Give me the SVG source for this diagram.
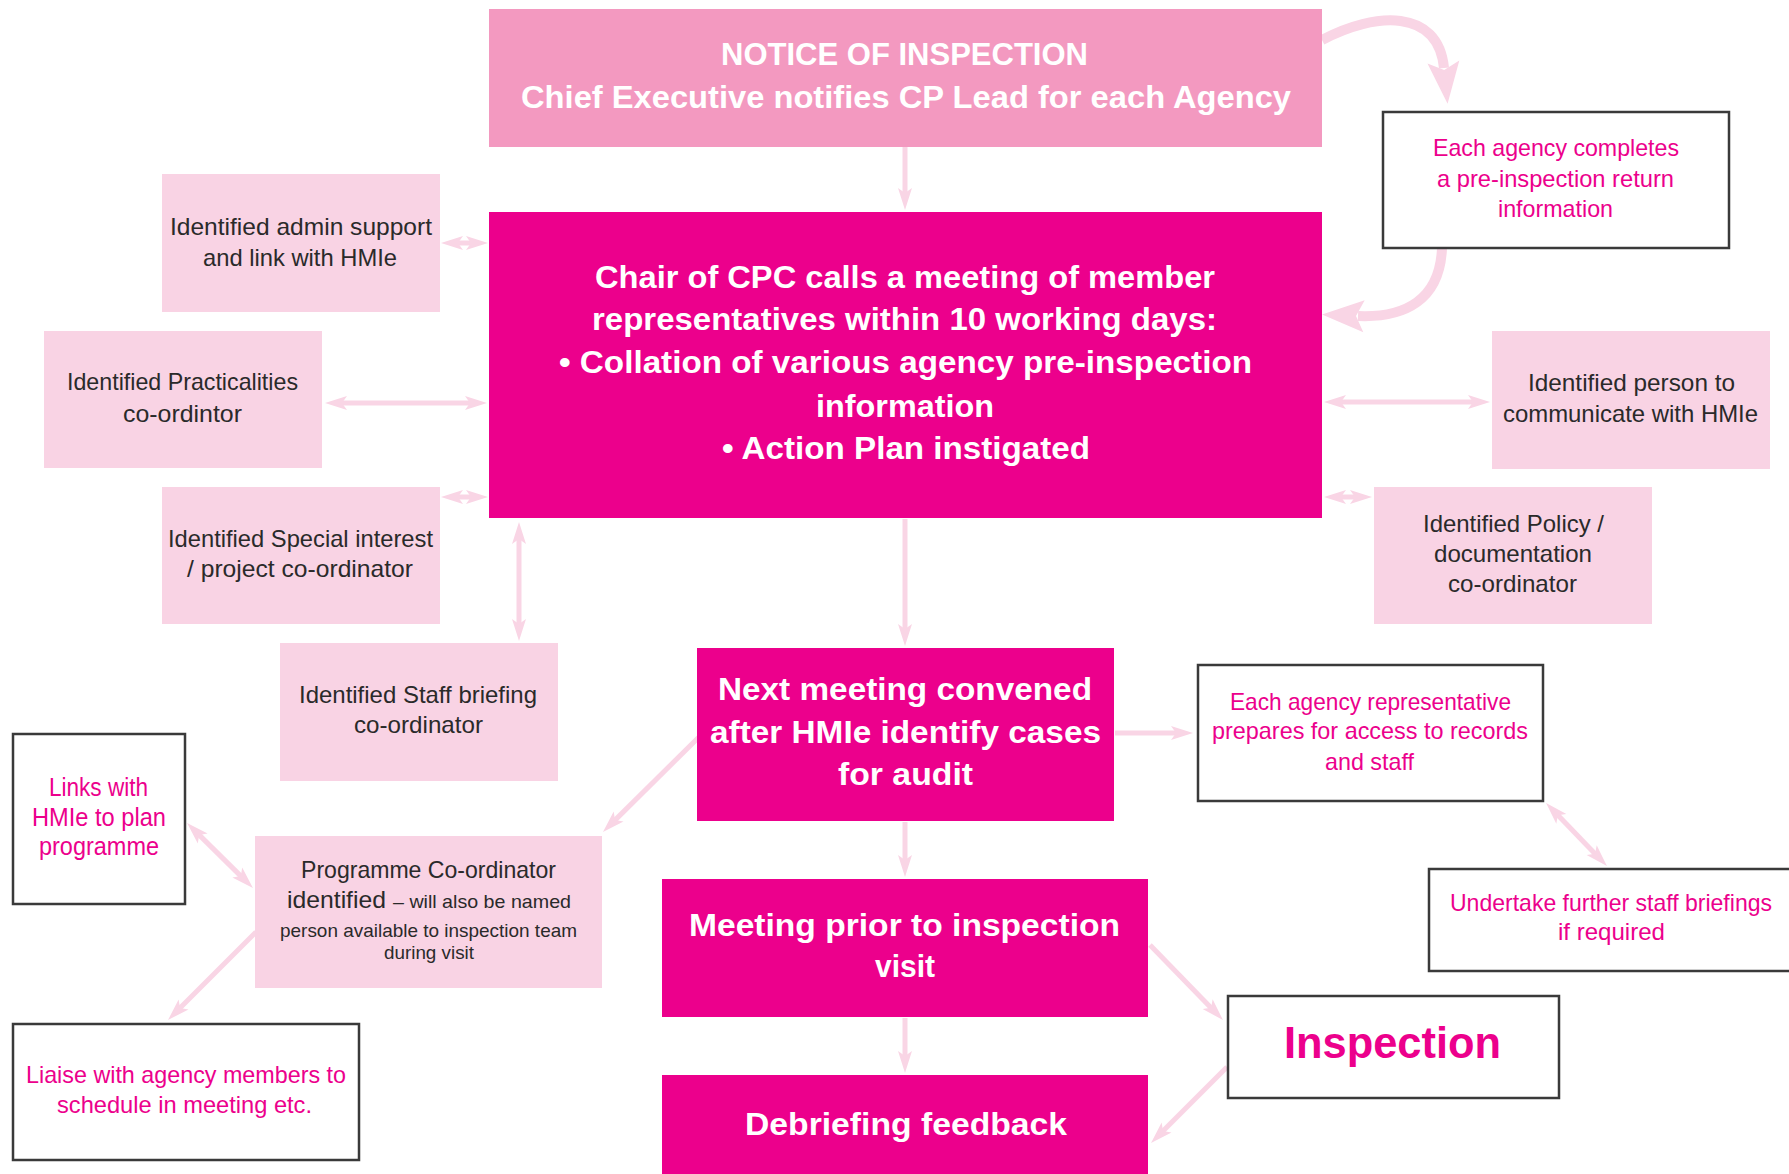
<svg xmlns="http://www.w3.org/2000/svg" width="1789" height="1174" viewBox="0 0 1789 1174">
<style>
.bg{fill:#ffffff}
.top{fill:#F399C0}
.mag{fill:#EC008C}
.lp{fill:#F9D3E4}
.ol{fill:#ffffff;stroke:#3a3a3a;stroke-width:2.5}
.tw{font-family:"Liberation Sans",Arial,sans-serif;font-weight:bold;fill:#ffffff;font-size:32px}
.tm{font-family:"Liberation Sans",Arial,sans-serif;font-weight:bold;fill:#EC008C;font-size:44px}
.td{font-family:"Liberation Sans",Arial,sans-serif;fill:#2a2a2a;font-size:24px}
.tp{font-family:"Liberation Sans",Arial,sans-serif;fill:#EC008C;font-size:24px}
.s19{font-size:19px}
.s25{font-size:25px}
.c{fill:none;stroke:#F9D5E5;stroke-width:5}
.cb{fill:none;stroke:#F9D5E5;stroke-width:10}
</style>
<defs>
<marker id="ah" markerUnits="userSpaceOnUse" markerWidth="24" markerHeight="16" refX="10" refY="8" orient="auto-start-reverse" overflow="visible">
<path d="M0,1 L22,8 L0,15 L5,8 Z" fill="#F9D5E5"/>
</marker>
<marker id="big" markerUnits="userSpaceOnUse" markerWidth="44" markerHeight="36" refX="6" refY="18" orient="auto" overflow="visible">
<path d="M0,2 L42,18 L0,34 L8,18 Z" fill="#F9D5E5"/>
</marker>
</defs>
<rect class="bg" x="0" y="0" width="1789" height="1174"/>

<g id="connectors">
<line class="c" x1="905" y1="147" x2="905" y2="198" marker-end="url(#ah)"/>
<line class="c" x1="905" y1="519" x2="905" y2="634" marker-end="url(#ah)"/>
<line class="c" x1="905" y1="822" x2="905" y2="865" marker-end="url(#ah)"/>
<line class="c" x1="905" y1="1018" x2="905" y2="1061" marker-end="url(#ah)"/>
<line class="c" x1="519" y1="534" x2="519" y2="629" marker-start="url(#ah)" marker-end="url(#ah)"/>
<line class="c" x1="453" y1="243" x2="476" y2="243" marker-start="url(#ah)" marker-end="url(#ah)"/>
<line class="c" x1="337" y1="403" x2="475" y2="403" marker-start="url(#ah)" marker-end="url(#ah)"/>
<line class="c" x1="453" y1="497" x2="476" y2="497" marker-start="url(#ah)" marker-end="url(#ah)"/>
<line class="c" x1="1336" y1="402" x2="1478" y2="402" marker-start="url(#ah)" marker-end="url(#ah)"/>
<line class="c" x1="1336" y1="497" x2="1360" y2="497" marker-start="url(#ah)" marker-end="url(#ah)"/>
<line class="c" x1="1115" y1="733" x2="1181" y2="733" marker-end="url(#ah)"/>
<line class="c" x1="699" y1="737" x2="611.5" y2="823.6" marker-end="url(#ah)"/>
<line class="c" x1="195.6" y1="831.4" x2="244.4" y2="879.6" marker-start="url(#ah)" marker-end="url(#ah)"/>
<line class="c" x1="256" y1="932" x2="176.5" y2="1011.5" marker-end="url(#ah)"/>
<line class="c" x1="1554.4" y1="811.6" x2="1598.6" y2="857.4" marker-start="url(#ah)" marker-end="url(#ah)"/>
<line class="c" x1="1150" y1="945" x2="1214.6" y2="1011.4" marker-end="url(#ah)"/>
<line class="c" x1="1227" y1="1067" x2="1159.5" y2="1134.5" marker-end="url(#ah)"/>
<path class="cb" d="M1322,40 C1375,12 1438,8 1444,68" marker-end="url(#big)"/>
<path class="cb" d="M1442,248 C1440,300 1405,318 1358,316" marker-end="url(#big)"/>
</g>

<g id="n-notice">
<rect class="top" x="489" y="9" width="833" height="138"/>
<text class="tw" x="721" y="65" textLength="367" lengthAdjust="spacingAndGlyphs">NOTICE OF INSPECTION</text>
<text class="tw" x="521" y="108" textLength="770" lengthAdjust="spacingAndGlyphs">Chief Executive notifies CP Lead for each Agency</text>
</g>

<g id="n-chair">
<rect class="mag" x="489" y="212" width="833" height="306"/>
<text class="tw" x="595" y="288" textLength="620" lengthAdjust="spacingAndGlyphs">Chair of CPC calls a meeting of member</text>
<text class="tw" x="592" y="330" textLength="625" lengthAdjust="spacingAndGlyphs">representatives within 10 working days:</text>
<text class="tw" x="559" y="373" textLength="693" lengthAdjust="spacingAndGlyphs">• Collation of various agency pre-inspection</text>
<text class="tw" x="816" y="417" textLength="178" lengthAdjust="spacingAndGlyphs">information</text>
<text class="tw" x="722" y="459" textLength="368" lengthAdjust="spacingAndGlyphs">• Action Plan instigated</text>
</g>

<g id="n-return">
<rect class="ol" x="1383" y="112" width="346" height="136"/>
<text class="tp" x="1433" y="156" textLength="246" lengthAdjust="spacingAndGlyphs">Each agency completes</text>
<text class="tp" x="1437" y="187" textLength="237" lengthAdjust="spacingAndGlyphs">a pre-inspection return</text>
<text class="tp" x="1498" y="217" textLength="115" lengthAdjust="spacingAndGlyphs">information</text>
</g>

<g id="n-admin">
<rect class="lp" x="162" y="174" width="278" height="138"/>
<text class="td" x="170" y="235" textLength="262" lengthAdjust="spacingAndGlyphs">Identified admin support</text>
<text class="td" x="203" y="266" textLength="194" lengthAdjust="spacingAndGlyphs">and link with HMIe</text>
</g>

<g id="n-practical">
<rect class="lp" x="44" y="331" width="278" height="137"/>
<text class="td" x="67" y="390" textLength="231" lengthAdjust="spacingAndGlyphs">Identified Practicalities</text>
<text class="td" x="123" y="422" textLength="119" lengthAdjust="spacingAndGlyphs">co-ordintor</text>
</g>

<g id="n-special">
<rect class="lp" x="162" y="487" width="278" height="137"/>
<text class="td" x="168" y="547" textLength="265" lengthAdjust="spacingAndGlyphs">Identified Special interest</text>
<text class="td" x="187" y="577" textLength="226" lengthAdjust="spacingAndGlyphs">/ project co-ordinator</text>
</g>

<g id="n-person">
<rect class="lp" x="1492" y="331" width="278" height="138"/>
<text class="td" x="1528" y="391" textLength="207" lengthAdjust="spacingAndGlyphs">Identified person to</text>
<text class="td" x="1503" y="422" textLength="255" lengthAdjust="spacingAndGlyphs">communicate with HMIe</text>
</g>

<g id="n-policy">
<rect class="lp" x="1374" y="487" width="278" height="137"/>
<text class="td" x="1423" y="532" textLength="181" lengthAdjust="spacingAndGlyphs">Identified Policy /</text>
<text class="td" x="1434" y="562" textLength="158" lengthAdjust="spacingAndGlyphs">documentation</text>
<text class="td" x="1448" y="592" textLength="129" lengthAdjust="spacingAndGlyphs">co-ordinator</text>
</g>

<g id="n-staff">
<rect class="lp" x="280" y="643" width="278" height="138"/>
<text class="td" x="299" y="703" textLength="238" lengthAdjust="spacingAndGlyphs">Identified Staff briefing</text>
<text class="td" x="354" y="733" textLength="129" lengthAdjust="spacingAndGlyphs">co-ordinator</text>
</g>

<g id="n-next">
<rect class="mag" x="697" y="648" width="417" height="173"/>
<text class="tw" x="718" y="700" textLength="374" lengthAdjust="spacingAndGlyphs">Next meeting convened</text>
<text class="tw" x="710" y="743" textLength="391" lengthAdjust="spacingAndGlyphs">after HMIe identify cases</text>
<text class="tw" x="838" y="785" textLength="135" lengthAdjust="spacingAndGlyphs">for audit</text>
</g>

<g id="n-records">
<rect class="ol" x="1198" y="665" width="345" height="136"/>
<text class="tp" x="1230" y="710" textLength="281" lengthAdjust="spacingAndGlyphs">Each agency representative</text>
<text class="tp" x="1212" y="739" textLength="316" lengthAdjust="spacingAndGlyphs">prepares for access to records</text>
<text class="tp" x="1325" y="770" textLength="89" lengthAdjust="spacingAndGlyphs">and staff</text>
</g>

<g id="n-undertake">
<rect class="ol" x="1429" y="869" width="380" height="102"/>
<text class="tp" x="1450" y="911" textLength="322" lengthAdjust="spacingAndGlyphs">Undertake further staff briefings</text>
<text class="tp" x="1558" y="940" textLength="107" lengthAdjust="spacingAndGlyphs">if required</text>
</g>

<g id="n-links">
<rect class="ol" x="13" y="734" width="172" height="170"/>
<text class="tp s25" x="49" y="796" textLength="99" lengthAdjust="spacingAndGlyphs">Links with</text>
<text class="tp s25" x="32" y="826" textLength="134" lengthAdjust="spacingAndGlyphs">HMIe to plan</text>
<text class="tp s25" x="39" y="855" textLength="120" lengthAdjust="spacingAndGlyphs">programme</text>
</g>

<g id="n-programme">
<rect class="lp" x="255" y="836" width="347" height="152"/>
<text class="td" x="301" y="878" textLength="255" lengthAdjust="spacingAndGlyphs">Programme Co-ordinator</text>
<text class="td" x="287" y="908" textLength="99" lengthAdjust="spacingAndGlyphs">identified</text>
<text class="td s19" x="393" y="908" textLength="178" lengthAdjust="spacingAndGlyphs">– will also be named</text>
<text class="td s19" x="280" y="937" textLength="297" lengthAdjust="spacingAndGlyphs">person available to inspection team</text>
<text class="td s19" x="384" y="959" textLength="90" lengthAdjust="spacingAndGlyphs">during visit</text>
</g>

<g id="n-liaise">
<rect class="ol" x="13" y="1024" width="346" height="136"/>
<text class="tp" x="26" y="1083" textLength="320" lengthAdjust="spacingAndGlyphs">Liaise with agency members to</text>
<text class="tp" x="57" y="1113" textLength="255" lengthAdjust="spacingAndGlyphs">schedule in meeting etc.</text>
</g>

<g id="n-meeting">
<rect class="mag" x="662" y="879" width="486" height="138"/>
<text class="tw" x="689" y="936" textLength="431" lengthAdjust="spacingAndGlyphs">Meeting prior to inspection</text>
<text class="tw" x="875" y="977" textLength="60" lengthAdjust="spacingAndGlyphs">visit</text>
</g>

<g id="n-inspection">
<rect class="ol" x="1228" y="996" width="331" height="102"/>
<text class="tm" x="1284" y="1058" textLength="217" lengthAdjust="spacingAndGlyphs">Inspection</text>
</g>

<g id="n-debrief">
<rect class="mag" x="662" y="1075" width="486" height="110"/>
<text class="tw" x="745" y="1135" textLength="322" lengthAdjust="spacingAndGlyphs">Debriefing feedback</text>
</g>
</svg>
